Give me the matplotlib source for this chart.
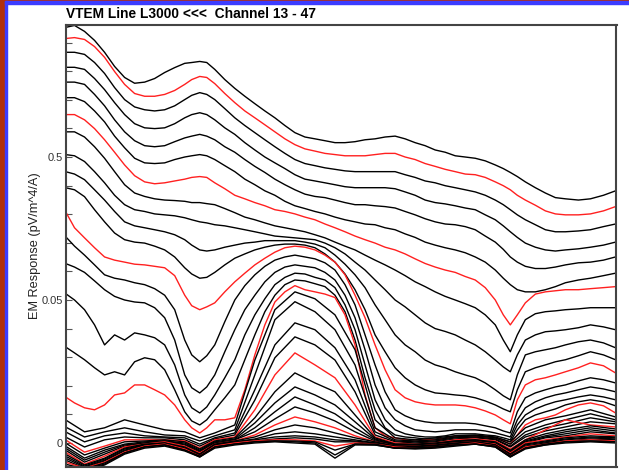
import matplotlib.pyplot as plt
from matplotlib.patches import Rectangle
from matplotlib.ticker import FixedLocator, NullFormatter

plt.rcParams['font.family'] = ['Liberation Sans', 'DejaVu Sans']

# fiducials along the line (dense set for the early channels)
fid_fine = [0, 9, 19, 29, 39, 49, 59, 69, 79, 89, 99, 109, 119, 126, 134, 141, 149, 159, 169, 179,
            189, 199, 209, 219, 229, 239, 249, 259, 269, 279, 289, 299, 309, 319, 329, 339, 349, 359,
            369, 379, 389, 399, 409, 419, 429, 437, 444, 451, 459, 469, 479, 489, 499, 512, 524, 537, 549]
fid = [0, 19, 39, 59, 79, 99, 119, 134, 149, 169, 189, 209, 229, 249, 269,
       289, 309, 329, 349, 369, 389, 409, 429, 444, 459, 479, 499, 524, 549]

# EM response per channel (pV/m^4/A)
ch13 = [4.03, 4.16, 3.78, 3.27, 2.70, 2.15, 1.80, 1.64, 1.67, 1.77, 1.95, 2.11, 2.26, 2.29, 2.33, 2.29, 2.05, 1.74, 1.51, 1.33,
        1.18, 1.05, 0.94, 0.83, 0.74, 0.69, 0.67, 0.65, 0.63, 0.63, 0.64, 0.66, 0.67, 0.69, 0.70, 0.67, 0.63, 0.60, 0.56, 0.54,
        0.51, 0.50, 0.49, 0.47, 0.44, 0.415, 0.39, 0.365, 0.335, 0.305, 0.28, 0.26, 0.255, 0.25, 0.255, 0.27, 0.29]
ch14 = [3.37, 3.42, 3.32, 2.96, 2.49, 1.98, 1.61, 1.39, 1.33, 1.33, 1.37, 1.46, 1.61, 1.74, 1.83, 1.80, 1.63, 1.39, 1.20, 1.05,
        0.94, 0.84, 0.75, 0.67, 0.61, 0.57, 0.55, 0.53, 0.52, 0.51, 0.51, 0.51, 0.52, 0.53, 0.53, 0.50, 0.48, 0.45, 0.43, 0.41,
        0.395, 0.38, 0.376, 0.36, 0.335, 0.315, 0.295, 0.27, 0.25, 0.23, 0.21, 0.20, 0.197, 0.197, 0.20, 0.21, 0.225]
ch15 = [2.70, 2.70, 2.61, 2.29, 1.92, 1.53, 1.26, 1.12, 1.07, 1.05, 1.07, 1.14, 1.26, 1.35, 1.41, 1.37, 1.26, 1.09, 0.94, 0.83,
        0.74, 0.66, 0.59, 0.53, 0.48, 0.45, 0.435, 0.42, 0.41, 0.40, 0.395, 0.395, 0.395, 0.395, 0.395, 0.376, 0.36, 0.34, 0.33, 0.315,
        0.305, 0.295, 0.285, 0.27, 0.25, 0.232, 0.214, 0.197, 0.182, 0.168, 0.155, 0.15, 0.15, 0.152, 0.155, 0.163, 0.17]
ch16 = [2.12, 2.12, 2.05, 1.77, 1.48, 1.20, 0.99, 0.855, 0.80, 0.79, 0.80, 0.855, 0.94, 0.99, 1.02, 0.99, 0.91, 0.80, 0.72, 0.63,
        0.56, 0.50, 0.455, 0.415, 0.376, 0.35, 0.34, 0.33, 0.32, 0.31, 0.305, 0.305, 0.305, 0.305, 0.30, 0.285, 0.27, 0.25, 0.24, 0.235,
        0.228, 0.22, 0.214, 0.197, 0.182, 0.165, 0.15, 0.137, 0.125, 0.117, 0.112, 0.11, 0.112, 0.114, 0.117, 0.121, 0.127]
ch17 = [1.67, 1.67, 1.61, 1.37, 1.14, 0.91, 0.75, 0.65, 0.60, 0.59, 0.60, 0.64, 0.68, 0.70, 0.72, 0.70, 0.66, 0.59, 0.54, 0.48,
        0.43, 0.39, 0.35, 0.32, 0.295, 0.275, 0.265, 0.26, 0.25, 0.24, 0.232, 0.232, 0.228, 0.225, 0.22, 0.208, 0.197, 0.185, 0.176, 0.17,
        0.168, 0.163, 0.155, 0.14, 0.127, 0.113, 0.10, 0.092, 0.086, 0.083, 0.083, 0.085, 0.088, 0.091, 0.092, 0.095, 0.10]
ch18 = [1.30, 1.30, 1.22, 1.05, 0.88, 0.70, 0.58, 0.49, 0.455, 0.45, 0.455, 0.48, 0.50, 0.51, 0.52, 0.51, 0.48, 0.435, 0.395, 0.35,
        0.32, 0.29, 0.27, 0.245, 0.228, 0.218, 0.208, 0.20, 0.19, 0.182, 0.176, 0.17, 0.168, 0.16, 0.155, 0.145, 0.137, 0.127, 0.121, 0.116,
        0.112, 0.107, 0.10, 0.092, 0.081, 0.071, 0.064, 0.059, 0.057, 0.057, 0.059, 0.062, 0.066, 0.069, 0.071, 0.074, 0.077]
ch19 = [0.99, 0.99, 0.91, 0.79, 0.66, 0.54, 0.44, 0.37, 0.335, 0.325, 0.33, 0.34, 0.35, 0.36, 0.365, 0.36, 0.33, 0.30, 0.27, 0.255,
        0.24, 0.228, 0.214, 0.208, 0.20, 0.19, 0.182, 0.17, 0.16, 0.15, 0.14, 0.132, 0.125, 0.117, 0.112, 0.105, 0.097, 0.09, 0.085, 0.081,
        0.078, 0.073, 0.069, 0.061, 0.050, 0.0448, 0.0413, 0.0448, 0.049, 0.055, 0.057, 0.058, 0.059, 0.059, 0.060, 0.061, 0.062]
ch20 = [0.75, 0.75, 0.69, 0.59, 0.49, 0.395, 0.32, 0.28, 0.265, 0.255, 0.25, 0.248, 0.245, 0.24, 0.24, 0.236, 0.232, 0.218, 0.204, 0.19,
        0.182, 0.173, 0.165, 0.16, 0.155, 0.15, 0.143, 0.136, 0.127, 0.119, 0.112, 0.103, 0.095, 0.088, 0.081, 0.074, 0.067, 0.062, 0.057, 0.053,
        0.050, 0.0487, 0.0473, 0.0448, 0.0413, 0.036, 0.0319, 0.0378, 0.0431, 0.0452, 0.0459, 0.0462, 0.0466, 0.0469, 0.0473, 0.0473, 0.0473]
ch21 = [0.52, 0.51, 0.465, 0.395, 0.33, 0.27, 0.232, 0.214, 0.208, 0.20, 0.197, 0.194, 0.188, 0.182, 0.176, 0.173, 0.168, 0.165, 0.16, 0.155,
        0.15, 0.145, 0.14, 0.138, 0.136, 0.134, 0.132, 0.125, 0.116, 0.105, 0.092, 0.081, 0.069, 0.059, 0.050, 0.0476, 0.0448, 0.042, 0.040, 0.039,
        0.0378, 0.036, 0.0343, 0.0319, 0.029, 0.0266, 0.0249, 0.0308, 0.036, 0.0378, 0.0389, 0.0392, 0.0396, 0.0403, 0.0413, 0.0406, 0.0396]
ch22 = [0.395, 0.38, 0.347, 0.295, 0.25, 0.208, 0.176, 0.165, 0.16, 0.155, 0.15, 0.143, 0.132, 0.121, 0.112, 0.11, 0.112, 0.117, 0.121, 0.125,
        0.127, 0.13, 0.13, 0.13, 0.13, 0.127, 0.123, 0.116, 0.103, 0.089, 0.075, 0.061, 0.0483, 0.0431, 0.0378, 0.0343, 0.0319, 0.029, 0.0273, 0.0263,
        0.0249, 0.0238, 0.0228, 0.021, 0.0186, 0.0165, 0.0151, 0.0238, 0.0308, 0.0319, 0.0326, 0.0333, 0.0343, 0.0354, 0.036, 0.035, 0.0333]
ch23 = [0.305, 0.295, 0.264, 0.214, 0.176, 0.147, 0.132, 0.127, 0.125, 0.119, 0.112, 0.10, 0.084, 0.076, 0.071, 0.072, 0.078, 0.088, 0.098, 0.105,
        0.112, 0.117, 0.121, 0.123, 0.123, 0.121, 0.116, 0.105, 0.092, 0.076, 0.059, 0.0466, 0.0378, 0.0319, 0.0263, 0.0228, 0.0203, 0.0186, 0.0175, 0.0172,
        0.0168, 0.0165, 0.0158, 0.0147, 0.0133, 0.0119, 0.0109, 0.0186, 0.0249, 0.0263, 0.0273, 0.0284, 0.0291, 0.0305, 0.0319, 0.0308, 0.0291]
ch24 = [0.208, 0.16, 0.136, 0.116, 0.10, 0.095, 0.092, 0.089, 0.088, 0.086, 0.084, 0.074, 0.054, 0.048, 0.0466, 0.0476, 0.049, 0.057, 0.067, 0.077,
        0.088, 0.098, 0.108, 0.116, 0.119, 0.117, 0.112, 0.103, 0.092, 0.075, 0.054, 0.0438, 0.0343, 0.0256, 0.0186, 0.0158, 0.0144, 0.0137, 0.0133, 0.0133,
        0.0133, 0.013, 0.0123, 0.0112, 0.0098, 0.0081, 0.0067, 0.0151, 0.0203, 0.0221, 0.0228, 0.0238, 0.0249, 0.0263, 0.028, 0.027, 0.0245]
ch25 = [0.139, 0.119, 0.103, 0.088, 0.075, 0.071, 0.069, 0.066, 0.064, 0.060, 0.054, 0.0466, 0.036, 0.0308, 0.0284, 0.0305, 0.0343, 0.0424, 0.050, 0.063,
        0.075, 0.086, 0.095, 0.10, 0.103, 0.10, 0.097, 0.091, 0.081, 0.064, 0.0483, 0.0378, 0.0273, 0.0179, 0.0116, 0.0095, 0.0081, 0.0074, 0.007, 0.007,
        0.007, 0.007, 0.0067, 0.006, 0.0053, 0.0042, 0.0035, 0.0109, 0.0158, 0.0175, 0.0186, 0.0196, 0.0203, 0.0217, 0.0228, 0.0221, 0.021]
ch26 = [0.090, 0.085, 0.078, 0.068, 0.059, 0.053, 0.050, 0.0493, 0.049, 0.0473, 0.0438, 0.036, 0.0238, 0.0193, 0.0175, 0.0196, 0.0238, 0.0319, 0.0396, 0.0466,
        0.054, 0.067, 0.078, 0.085, 0.088, 0.086, 0.084, 0.078, 0.069, 0.054, 0.0438, 0.0326, 0.0203, 0.0123, 0.0081, 0.006, 0.0046, 0.0042, 0.0039, 0.0042,
        0.0046, 0.0046, 0.0046, 0.0042, 0.0035, 0.0028, 0.0021, 0.0081, 0.0123, 0.0144, 0.0158, 0.0168, 0.0175, 0.0186, 0.0196, 0.0189, 0.0179]
ch27 = [0.0555, 0.050, 0.0466, 0.0413, 0.0343, 0.0378, 0.036, 0.0385, 0.0378, 0.0368, 0.0343, 0.0273, 0.0168, 0.0123, 0.0105, 0.0126, 0.0168, 0.0228, 0.0291, 0.0378,
        0.0448, 0.051, 0.064, 0.072, 0.077, 0.076, 0.072, 0.069, 0.061, 0.0483, 0.0396, 0.0273, 0.0151, 0.0081, 0.0046, 0.0032, 0.0025, 0.0021, 0.0021, 0.0025,
        0.0032, 0.0032, 0.0032, 0.0028, 0.0025, 0.0018, 0.0011, 0.0063, 0.0098, 0.0119, 0.0133, 0.0144, 0.0151, 0.0161, 0.0168, 0.0161, 0.0151]
ch28 = [0.0336, 0.0315, 0.0291, 0.0263, 0.0238, 0.0249, 0.0238, 0.0284, 0.0298, 0.0291, 0.0256, 0.0186, 0.0109, 0.0077, 0.0063, 0.0081, 0.0116, 0.0158, 0.0203, 0.0291,
        0.0378, 0.0459, 0.054, 0.064, 0.069, 0.068, 0.065, 0.062, 0.054, 0.0459, 0.036, 0.0228, 0.0116, 0.0053, 0.0028, 0.0021, 0.0018, 0.0014, 0.0014, 0.0018,
        0.0025, 0.0025, 0.0025, 0.0021, 0.0018, 0.0011, 0.0004, 0.0046, 0.0081, 0.0098, 0.0109, 0.0119, 0.0133, 0.0144, 0.0151, 0.0144, 0.013]
ch29 = [0.0161, 0.014, 0.0123, 0.0116, 0.0133, 0.0168, 0.0175, 0.0203, 0.0203, 0.0186, 0.0168, 0.0133, 0.0081, 0.0053, 0.0035, 0.0053, 0.0081, 0.0081, 0.0088, 0.0186,
        0.0308, 0.0413, 0.0493, 0.057, 0.063, 0.059, 0.057, 0.055, 0.052, 0.0448, 0.0343, 0.0168, 0.0053, 0.0025, 0.0018, 0.0011, 0.0011, 0.0011, 0.0011, 0.0014,
        0.0021, 0.0021, 0.0021, 0.0021, 0.0018, 0.0007, -0.0004, 0.0028, 0.0063, 0.0081, 0.0088, 0.0098, 0.0116, 0.0133, 0.014, 0.013, 0.0105]
ch30 = [0.0081, 0.0039, 0.0053, 0.0081, 0.0063, 0.0046, 0.0039, 0.0018, 0.0035, 0.0063, 0.029, 0.0466, 0.057, 0.051, 0.0448, 0.0326, 0.0081, 0.0018, 0.0011, 0.0018, 0.0025, 0.0028, 0.0021, 0.0004, 0.0053, 0.0081, 0.0095, 0.0116, 0.0091]
ch31 = [0.0056, 0.0021, 0.0039, 0.0053, 0.0039, 0.0028, 0.0025, 0.0007, 0.0025, 0.0046, 0.0238, 0.0431, 0.0494, 0.0459, 0.0396, 0.0273, 0.0053, 0.0011, 0.0007, 0.0011, 0.0021, 0.0025, 0.0018, -0.0004, 0.0039, 0.0063, 0.0081, 0.0102, 0.0081]
ch32 = [0.0039, 0.0004, 0.0025, 0.0035, 0.0025, 0.0021, 0.0018, -0.0004, 0.0018, 0.0035, 0.0186, 0.0343, 0.042, 0.0396, 0.0333, 0.0221, 0.0039, 0.0007, 0.0004, 0.0007, 0.0018, 0.0021, 0.0014, -0.0011, 0.0028, 0.0053, 0.0067, 0.0088, 0.0074]
ch33 = [0.0021, -0.0014, 0.0011, 0.0021, 0.0018, 0.0018, 0.0011, -0.0011, 0.0014, 0.0028, 0.015, 0.0298, 0.0371, 0.0343, 0.029, 0.0179, 0.0028, 0.0004, 0.0, 0.0004, 0.0014, 0.0018, 0.0011, -0.0014, 0.0021, 0.0042, 0.0056, 0.0074, 0.0067]
ch34 = [0.0011, -0.0032, -0.0011, 0.0011, 0.0011, 0.0011, 0.0007, -0.0018, 0.0011, 0.0021, 0.0116, 0.0238, 0.0315, 0.0273, 0.0228, 0.0133, 0.0021, 0.0, -0.0004, 0.0, 0.0011, 0.0014, 0.0007, -0.0021, 0.0011, 0.0046, 0.0081, 0.0063, 0.0056]
ch35 = [0.0, -0.0042, -0.0018, 0.0004, 0.0007, 0.0011, 0.0004, -0.0021, 0.0007, 0.0018, 0.0088, 0.0179, 0.0245, 0.021, 0.0179, 0.0098, 0.0018, -0.0004, -0.0004, 0.0, 0.0007, 0.0011, 0.0004, -0.0025, 0.0011, 0.0032, 0.0046, 0.006, 0.0049]
ch36 = [-0.0011, -0.0053, -0.0025, -0.0004, 0.0004, 0.0007, 0.0, -0.0025, 0.0004, 0.0014, 0.007, 0.014, 0.0196, 0.0168, 0.0133, 0.0074, 0.0014, -0.0004, -0.0007, -0.0004, 0.0007, 0.0011, 0.0, -0.0028, 0.0007, 0.0025, 0.0039, 0.0053, 0.0042]
ch37 = [-0.0018, -0.006, -0.0032, -0.0007, 0.0, 0.0007, -0.0004, -0.0028, 0.0, 0.0011, 0.0053, 0.0109, 0.0161, 0.0133, 0.0102, 0.0053, 0.0011, -0.0007, -0.0007, -0.0004, 0.0004, 0.0007, 0.0, -0.0032, 0.0004, 0.0021, 0.0032, 0.0046, 0.0035]
ch38 = [-0.0025, -0.0067, -0.0039, -0.0011, 0.0, 0.0004, -0.0007, -0.0032, 0.0, 0.0011, 0.0039, 0.0084, 0.0126, 0.0105, 0.0077, 0.0039, 0.0007, -0.0007, -0.0011, -0.0007, 0.0004, 0.0007, -0.0004, -0.0032, 0.0, 0.0018, 0.0025, 0.0039, 0.0032]
ch39 = [-0.0032, -0.0074, -0.0046, -0.0014, -0.0004, 0.0004, -0.0011, -0.0035, -0.0004, 0.0007, 0.0028, 0.0063, 0.0091, 0.0074, 0.0053, 0.0025, 0.0004, -0.0011, -0.0011, -0.0007, 0.0, 0.0004, -0.0004, -0.0035, 0.0, 0.0011, 0.0021, 0.0032, 0.0025]
ch40 = [-0.0039, -0.0077, -0.0053, -0.0018, -0.0004, 0.0, -0.0014, -0.0039, -0.0004, 0.0007, 0.0021, 0.0046, 0.0063, 0.0053, 0.0035, 0.0018, 0.0004, -0.0011, -0.0011, -0.0007, 0.0, 0.0004, -0.0007, -0.0039, -0.0004, 0.0007, 0.0018, 0.0025, 0.0021]
ch41 = [-0.0046, -0.0081, -0.0056, -0.0021, -0.0007, 0.0, -0.0018, -0.0039, -0.0007, 0.0004, 0.0014, 0.0032, 0.0039, 0.0032, 0.0021, 0.0011, 0.0, -0.0011, -0.0014, -0.0011, -0.0004, 0.0004, -0.0007, -0.0039, -0.0007, 0.0004, 0.0014, 0.0021, 0.0018]
ch42 = [-0.0053, -0.0084, -0.006, -0.0025, -0.0007, -0.0004, -0.0018, -0.0042, -0.0007, 0.0004, 0.0011, 0.0021, 0.0025, 0.0021, 0.0011, 0.0007, 0.0, -0.0014, -0.0014, -0.0011, -0.0004, 0.0, -0.0007, -0.0042, -0.0011, 0.0, 0.0011, 0.0018, 0.0014]
ch43 = [-0.006, -0.0088, -0.0063, -0.0028, -0.0011, -0.0004, -0.0021, -0.0042, -0.0011, 0.0, 0.0007, 0.0014, 0.0018, 0.0014, 0.0004, 0.0004, -0.0004, -0.0014, -0.0014, -0.0011, -0.0004, 0.0, -0.0011, -0.0042, -0.0014, 0.0, 0.0007, 0.0014, 0.0011]
ch44 = [-0.0067, -0.0088, -0.0067, -0.0032, -0.0011, -0.0004, -0.0021, -0.0046, -0.0011, 0.0, 0.0007, 0.0011, 0.0011, 0.0007, -0.0011, 0.0, -0.0004, -0.0014, -0.0018, -0.0014, -0.0007, 0.0, -0.0011, -0.0046, -0.0014, -0.0004, 0.0007, 0.0011, 0.0007]
ch45 = [-0.0074, -0.0091, -0.007, -0.0035, -0.0014, -0.0007, -0.0025, -0.0046, -0.0014, -0.0004, 0.0004, 0.0007, 0.0007, 0.0004, -0.0025, -0.0004, -0.0004, -0.0018, -0.0018, -0.0014, -0.0007, -0.0004, -0.0011, -0.0046, -0.0018, -0.0004, 0.0004, 0.0007, 0.0004]
ch46 = [-0.0081, -0.0091, -0.0074, -0.0035, -0.0014, -0.0007, -0.0025, -0.0049, -0.0014, -0.0004, 0.0004, 0.0007, 0.0004, 0.0, -0.0042, -0.0004, -0.0007, -0.0018, -0.0018, -0.0014, -0.0007, -0.0004, -0.0014, -0.0049, -0.0018, -0.0007, 0.0004, 0.0007, 0.0004]
ch47 = [-0.0084, -0.0095, -0.0077, -0.0039, -0.0018, -0.0011, -0.0028, -0.0049, -0.0018, -0.0007, 0.0, 0.0004, 0.0, -0.0004, -0.0053, -0.0007, -0.0007, -0.0018, -0.0021, -0.0018, -0.0011, -0.0004, -0.0014, -0.0049, -0.0021, -0.0007, 0.0, 0.0004, 0.0]

channels = [ch13, ch14, ch15, ch16, ch17, ch18, ch19, ch20, ch21, ch22, ch23, ch24,
            ch25, ch26, ch27, ch28, ch29, ch30, ch31, ch32, ch33, ch34, ch35, ch36,
            ch37, ch38, ch39, ch40, ch41, ch42, ch43, ch44, ch45, ch46, ch47]
first_ch = 13

fig = plt.figure(figsize=(6.29, 4.70), dpi=100)
ax = fig.add_axes([65.5 / 629, 3 / 470, 551 / 629, 442 / 470])

for i, vals in enumerate(channels):
    ch = first_ch + i
    xs = fid_fine if len(vals) == len(fid_fine) else fid
    col = '#ff2020' if (ch - 14) % 5 == 0 else 'black'
    ax.plot(xs, vals, color=col, lw=1.0)

ax.set_yscale('symlog', linthresh=0.05, linscale=0.9)
ax.set_ylim(-0.0084, 4.19)
ax.set_xlim(0, 550)
ax.set_yticks([0, 0.05, 0.5])
ax.set_yticklabels(['0', '0.05', '0.5'])
minor = [0.01, 0.02, 0.03, 0.04]
minor += [0.05 * 10 ** (k / 5) for k in (1, 2, 3, 4)]
minor += [0.5 * 10 ** (k / 5) for k in (1, 2, 3, 4)]
ax.yaxis.set_minor_locator(FixedLocator(minor))
ax.yaxis.set_minor_formatter(NullFormatter())
ax.tick_params(axis='y', which='both', direction='in', length=4, width=0.8,
               color='#555555', labelsize=8, labelcolor='#333333', pad=2)
ax.set_xticks([])
for s in ax.spines.values():
    s.set_color('#444444')
    s.set_linewidth(1.5)

ax.set_ylabel('EM Response (pV/m^4/A)', fontsize=9.2, color='#222222')
ax.yaxis.set_label_coords(-0.045, 0.5)

fig.text(66 / 629, 1 - 14.5 / 470, 'VTEM Line L3000 <<<  Channel 13 - 47',
         fontweight='bold', fontsize=9.9, va='center', ha='left')

# window border
fig.patches.append(Rectangle((0, 0), 4.5 / 629, 1, transform=fig.transFigure,
                             color='#b0300c', zorder=5))
fig.patches.append(Rectangle((0, 1 - 1.2 / 470), 1, 1.2 / 470, transform=fig.transFigure,
                             color='#b0300c', zorder=5))
fig.patches.append(Rectangle((4.5 / 629, 0), 2.5 / 629, 1 - 1.2 / 470, transform=fig.transFigure,
                             color='#3c3cff', zorder=6))
fig.patches.append(Rectangle((4.5 / 629, 1 - 3.5 / 470), 1, 2.3 / 470, transform=fig.transFigure,
                             color='#3c3cff', zorder=6))

fig.savefig('out.png', dpi=100)
